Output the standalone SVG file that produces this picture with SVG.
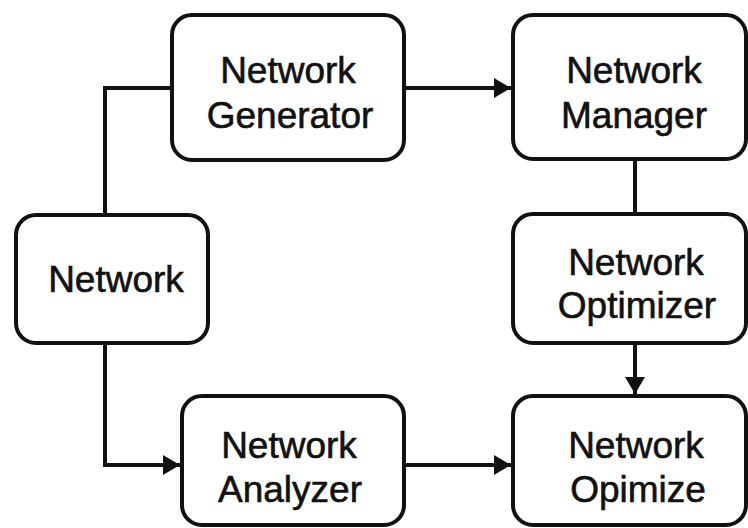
<svg xmlns="http://www.w3.org/2000/svg" width="748" height="528" viewBox="0 0 748 528">
<defs>
<style>
.box{fill:#fff;stroke:#111;stroke-width:4}
.lbl{font-family:"Liberation Sans",Arial,sans-serif;font-size:37px;fill:#111;stroke:#111;stroke-width:0.6;text-anchor:middle}
.conn{fill:none;stroke:#111;stroke-width:4}
</style>
<marker id="arr" markerUnits="userSpaceOnUse" markerWidth="20" markerHeight="22" refX="17" refY="11" orient="auto">
<path d="M0,1 L17,11 L0,21 Z" fill="#111"/>
</marker>
</defs>
<rect width="748" height="528" fill="#fff"/>
<g id="connectors">
<path class="conn" d="M105,215 V88 H172"/>
<path class="conn" d="M404,88 H511" marker-end="url(#arr)"/>
<path class="conn" d="M635,159 V214"/>
<path class="conn" d="M635,343 V394" marker-end="url(#arr)"/>
<path class="conn" d="M105,343 V465 H180" marker-end="url(#arr)"/>
<path class="conn" d="M404,465 H511" marker-end="url(#arr)"/>
</g>
<g id="node-generator">
<rect class="box" x="172" y="15" width="232" height="145" rx="20"/>
<text class="lbl" x="288" y="83">Network</text>
<text class="lbl" x="290" y="128">Generator</text>
</g>
<g id="node-manager">
<rect class="box" x="513" y="15" width="233" height="144" rx="20"/>
<text class="lbl" x="634" y="83">Network</text>
<text class="lbl" x="634" y="128">Manager</text>
</g>
<g id="node-network">
<rect class="box" x="16" y="215" width="192" height="128" rx="20"/>
<text class="lbl" x="116" y="292">Network</text>
</g>
<g id="node-optimizer">
<rect class="box" x="513" y="214" width="233" height="129" rx="20"/>
<text class="lbl" x="636" y="275">Network</text>
<text class="lbl" x="637" y="318">Optimizer</text>
</g>
<g id="node-analyzer">
<rect class="box" x="182" y="396" width="222" height="129" rx="20"/>
<text class="lbl" x="289" y="458">Network</text>
<text class="lbl" x="290" y="502">Analyzer</text>
</g>
<g id="node-opimize">
<rect class="box" x="513" y="396" width="233" height="129" rx="20"/>
<text class="lbl" x="636" y="458">Network</text>
<text class="lbl" x="638" y="502">Opimize</text>
</g>
</svg>
